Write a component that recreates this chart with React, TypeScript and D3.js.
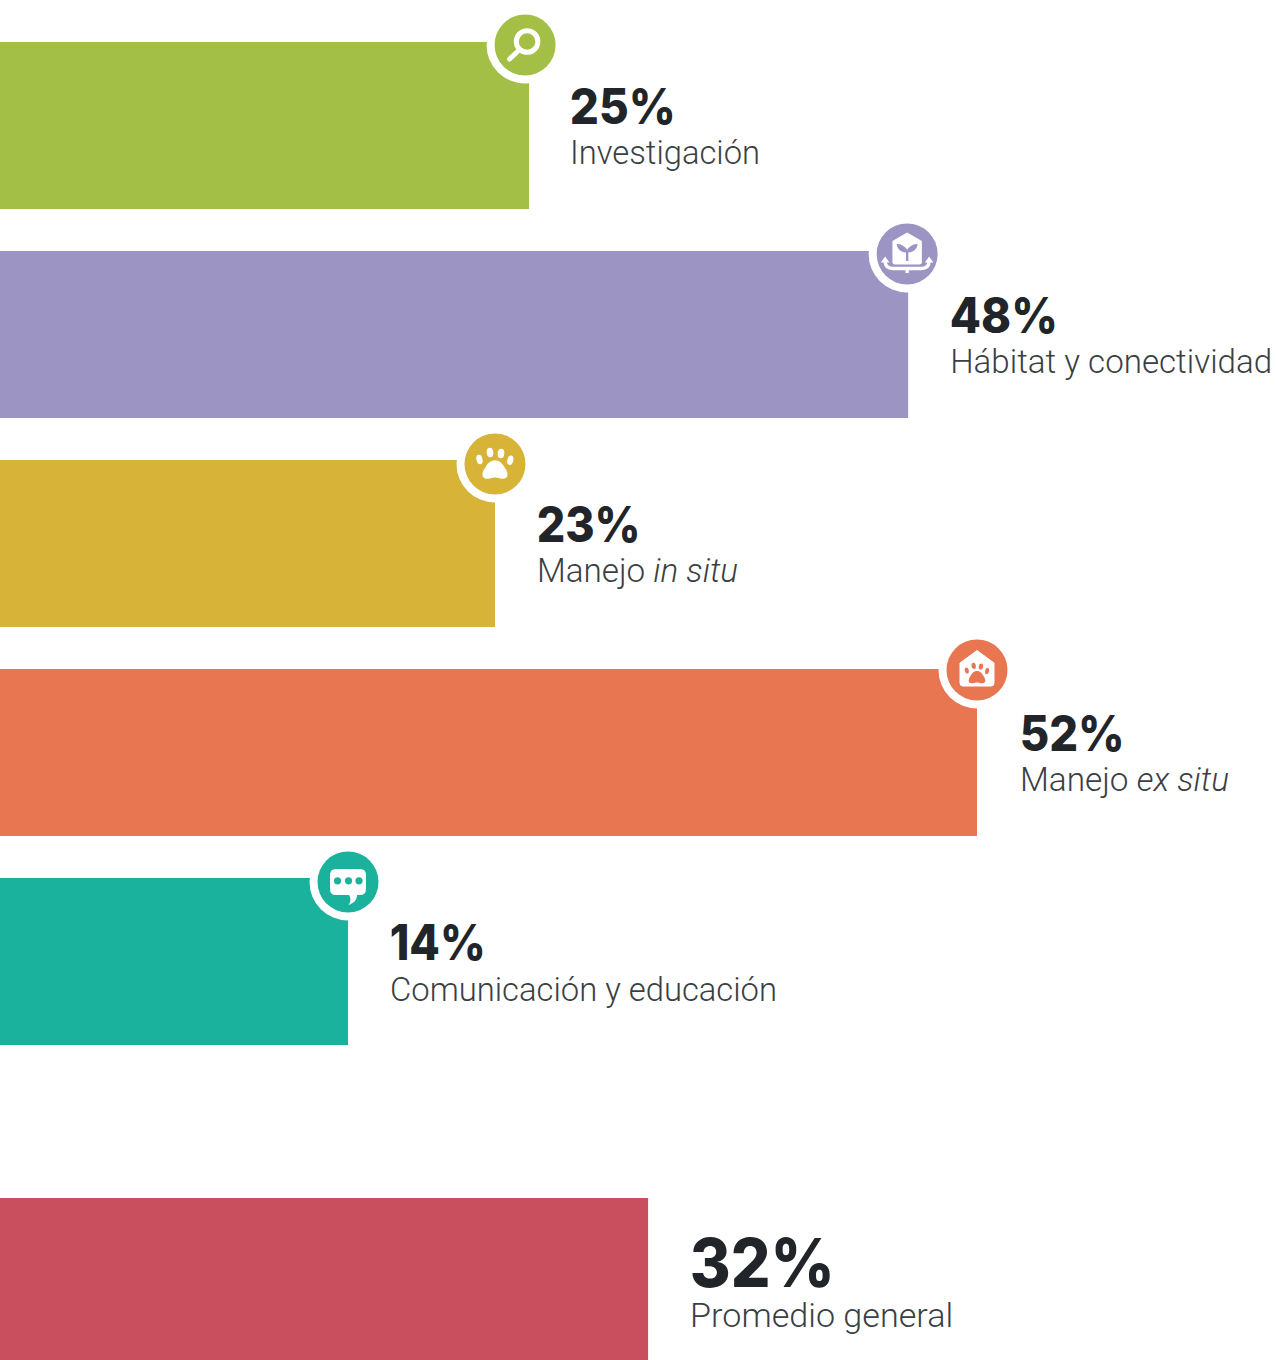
import React from "react";
import * as d3 from "d3";

const W = 1277, H = 1360;

// data
const categories = ["Investigación", "Hábitat y conectividad", "Manejo in situ", "Manejo ex situ", "Comunicación y educación", "Promedio general"];
const valueLabels = ["25%", "48%", "23%", "52%", "14%", "32%"];
const barValues = [24.94, 47.84, 22.88, 52, 14, 32.13];
const colors = ["#A4BF46", "#9C95C4", "#D7B338", "#E87650", "#1AB29C", "#C94F5E"];

// layout
const xScale = d3.scaleLinear().domain([14, 52]).range([348, 977]);
const barTop = [42, 251, 460, 669, 878, 1198];
const barHeight = [167, 167, 167, 167, 167, 162];
const iconDx = [-4, -1, 0, 0, 0];
const iconDy = [3, 3, 4, 1, 4];
const textDx = [41, 42, 42, 43, 42, 42];
const labelDy = [122, 122, 122, 122, 122.7, 129];
const valueWidth = [106, 108, 104, 105, 96, 145];
const labelWidth = [190, 322, 201, 209, 387, 263];
const NUM = "Inter, 'Noto Sans', sans-serif";
const LAB = "Roboto, 'Noto Sans', sans-serif";
const INK = "#212529";
const LABEL_INK = "#3a3f44";

const Paw = ({ fill, s = 1, dy = 0 }: { fill: string; s?: number; dy?: number }) => (
  <g transform={`translate(0,${dy}) scale(${s})`} fill={fill}>
    <ellipse cx={-15.5} cy={-4.5} rx={3} ry={4.8} transform="rotate(-14 -15.5 -4.5)" />
    <ellipse cx={-5} cy={-11.5} rx={3.3} ry={4.8} transform="rotate(-6 -5 -11.5)" />
    <ellipse cx={6} cy={-10.5} rx={3.3} ry={4.8} transform="rotate(8 6 -10.5)" />
    <ellipse cx={15.3} cy={-3.8} rx={3} ry={4.8} transform="rotate(14 15.3 -3.8)" />
    <path d="M0,-3.7 C5,-3.7 7.5,0 10,4 C13,8 14.5,14.7 8,14.7 C4,14.7 3,13.5 0,13.5 C-3,13.5 -4,14.7 -8,14.7 C-14.5,14.7 -13,8 -10,4 C-7.5,0 -5,-3.7 0,-3.7Z" />
  </g>
);

const Icon = ({ i, c }: { i: number; c: string }) => {
  if (i === 0)
    return (
      <g fill="none" stroke="#fff" strokeWidth={5}>
        <circle cx={2} cy={-3.5} r={10.8} />
        <line x1={-8} y1={7} x2={-15.5} y2={14} strokeLinecap="round" />
      </g>
    );
  if (i === 1)
    return (
      <g>
        <path d="M0,-21.5 L14.7,-13 V8 Q14.7,10.5 12,10.5 H-12 Q-14.7,10.5 -14.7,8 V-13Z" fill="#fff" />
        <path d="M-1.2,-1.5 C-6.5,-2 -10,-5 -10.5,-10 C-6,-10 -2.5,-8 0,-4.5 C2.5,-8 6,-10 10.5,-10 C10,-5 6.5,-2 1.2,-1.5 V7 H-1.2Z" fill={c} />
        <path d="M-22,7 Q-22,14.5 -14,14.5 H14 Q22,14.5 22,7 M0,14.5 V19" fill="none" stroke="#fff" strokeWidth={3.4} />
        <path d="M-22,2.5 L-26.3,8.5 H-17.7Z M22,2.5 L26.3,8.5 H17.7Z" fill="#fff" />
      </g>
    );
  if (i === 2) return <Paw fill="#fff" />;
  if (i === 3)
    return (
      <g>
        <path d="M0,-19.5 L17,-7 V13 Q17,16 14,16 H-14 Q-17,16 -17,13 V-7Z" fill="#fff" stroke="#fff" strokeLinejoin="round" />
        <Paw fill={c} s={0.66} dy={3.5} />
      </g>
    );
  return (
    <g>
      <path d="M-12,-13 H12 Q18,-13 18,-7 V7 Q18,13 12,13 H9 C9,18 6,21 0.5,23 C3,20 3,16 1,13 H-12 Q-18,13 -18,7 V-7 Q-18,-13 -12,-13Z" fill="#fff" />
      {[-10.5, 0.5, 11].map((x) => (
        <circle key={x} cx={x} cy={-1.2} r={3.6} fill={c} />
      ))}
    </g>
  );
};

const Label = ({ text, x, y, width, big }: { text: string; x: number; y: number; width: number; big: boolean }) => {
  const m = text.match(/^Manejo (.*)$/);
  return (
    <text x={x} y={y} fontFamily={LAB} fontWeight={300} fontSize={big ? 34 : 33} fill={LABEL_INK} textLength={width} lengthAdjust="spacingAndGlyphs">
      {m ? (
        <>
          Manejo <tspan fontStyle="italic">{m[1]}</tspan>
        </>
      ) : (
        text
      )}
    </text>
  );
};

export default function App() {
  return (
    <svg width={W} height={H} viewBox={`0 0 ${W} ${H}`} style={{ position: "absolute", left: 0, top: 0, display: "block" }}>
      <rect width={W} height={H} fill="#fff" />
      {categories.map((cat, i) => {
        const end = xScale(barValues[i]);
        const y = barTop[i];
        const big = i === 5;
        const valueY = big ? y + 89 : y + 82;
        return (
          <g key={cat}>
            <rect x={0} y={y} width={end} height={barHeight[i]} fill={colors[i]} />
            {!big && (
              <g transform={`translate(${end + iconDx[i]},${y + iconDy[i]})`}>
                <circle r={38.5} fill="#fff" />
                <circle r={30.5} fill={colors[i]} />
                <Icon i={i} c={colors[i]} />
              </g>
            )}
            <text x={end + textDx[i] - 0.3} y={valueY} fontFamily={NUM} fontWeight={800} fontSize={big ? 67 : 49} fill={INK} textLength={valueWidth[i]} lengthAdjust="spacingAndGlyphs">
              {valueLabels[i]}
            </text>
            <Label text={cat} x={end + textDx[i]} y={y + labelDy[i]} width={labelWidth[i]} big={big} />
          </g>
        );
      })}
    </svg>
  );
}
